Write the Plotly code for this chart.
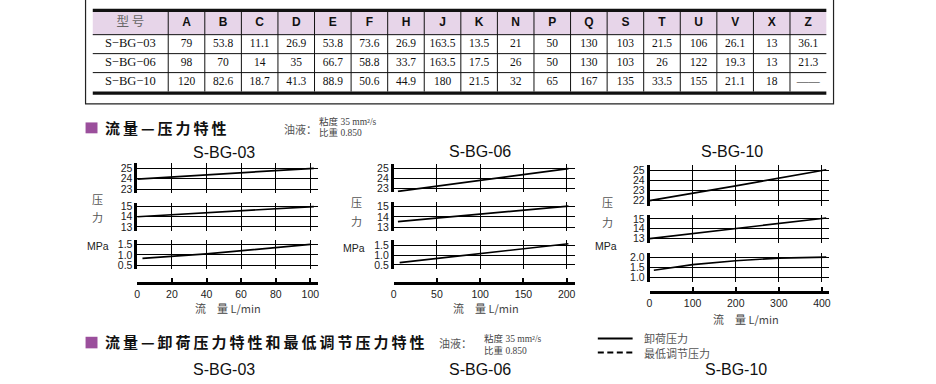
import plotly.graph_objects as go

W, H = 936, 384


def fx(x):
    return x / W


def fy(y):
    return 1 - y / H


# ---------------- table data ----------------
table_header = "型 号"
table_cols = ["A", "B", "C", "D", "E", "F", "H", "J", "K", "N", "P", "Q", "S", "T", "U", "V", "X", "Z"]
models = ["S−BG−03", "S−BG−06", "S−BG−10"]
row_03 = ["79", "53.8", "11.1", "26.9", "53.8", "73.6", "26.9", "163.5", "13.5", "21", "50", "130", "103", "21.5", "106", "26.1", "13", "36.1"]
row_06 = ["98", "70", "14", "35", "66.7", "58.8", "33.7", "163.5", "17.5", "26", "50", "130", "103", "26", "122", "19.3", "13", "21.3"]
row_10 = ["120", "82.6", "18.7", "41.3", "88.9", "50.6", "44.9", "180", "21.5", "32", "65", "167", "135", "33.5", "155", "21.1", "18", "——"]
table_rows = [row_03, row_06, row_10]

# ---------------- chart data (flow L/min -> pressure MPa) ----------------
flow_ticks_03 = [0, 20, 40, 60, 80, 100]
flow_ticks_06 = [0, 50, 100, 150, 200]
flow_ticks_10 = [0, 100, 200, 300, 400]

ticks_hi_a = [23, 24, 25]
ticks_hi_b = [22, 23, 24, 25]
ticks_mid = [13, 14, 15]
ticks_lo_a = [0.5, 1.0, 1.5]
ticks_lo_b = [1.0, 1.5, 2.0]

# S-BG-03
q03_hi = [0, 40, 102]
p03_hi = [23.95, 24.38, 25.0]
q03_mid = [0, 40, 102]
p03_mid = [14.0, 14.4, 15.0]
q03_lo = [3, 40, 100]
p03_lo = [0.83, 1.05, 1.5]
# S-BG-06
q06_hi = [5, 100, 202]
p06_hi = [22.75, 23.87, 25.0]
q06_mid = [5, 100, 202]
p06_mid = [13.55, 14.3, 15.05]
q06_lo = [7, 100, 202]
p06_lo = [0.62, 1.07, 1.57]
# S-BG-10
q10_hi = [0, 200, 410]
p10_hi = [22.0, 23.45, 25.05]
q10_mid = [0, 200, 410]
p10_mid = [13.0, 14.0, 15.1]
q10_lo = [10, 100, 200, 300, 410]
p10_lo = [1.35, 1.63, 1.82, 1.95, 2.0]

chart_titles = ["S-BG-03", "S-BG-06", "S-BG-10"]
x_title = "流\u3000量 L/min"
y_title_chars = ["压", "力", "MPa"]

# ---------------- layout specs (pixel geometry) ----------------
charts = [
    dict(title=chart_titles[0], xdom=(135, 317), xmax=104.6, xticks=flow_ticks_03, axis_y=284,
         title_pos=(221.7, 151.7), xt_pos=(226.5, 309),
         ylab=[(95, 199.3), (95, 217.3), (96, 246.7)],
         panels=[(163, 193, (22.62, 25.48), ticks_hi_a, "d", q03_hi, p03_hi),
                 (202.7, 231.7, (12.57, 15.39), ticks_mid, "d", q03_mid, p03_mid),
                 (240.7, 270, (0.31, 1.705), ticks_lo_a, ".1f", q03_lo, p03_lo)]),
    dict(title=chart_titles[1], xdom=(392.7, 575), xmax=209.5, xticks=flow_ticks_06, axis_y=284,
         title_pos=(480, 151), xt_pos=(486, 309),
         ylab=[(355, 201.7), (355, 221.7), (353, 248.3)],
         panels=[(163.3, 192.3, (22.65, 25.49), ticks_hi_a, "d", q06_hi, p06_hi),
                 (202, 231.7, (12.62, 15.45), ticks_mid, "d", q06_mid, p06_mid),
                 (240, 270, (0.285, 1.785), ticks_lo_a, ".1f", q06_lo, p06_lo)]),
    dict(title=chart_titles[2], xdom=(650, 830.7), xmax=417, xticks=flow_ticks_10, axis_y=293.3,
         title_pos=(733, 151), xt_pos=(747, 320.7),
         ylab=[(608, 201.7), (608, 222.7), (606, 246.7)],
         panels=[(165, 206, (21.48, 25.49), ticks_hi_b, "d", q10_hi, p10_hi),
                 (215, 243.3, (12.57, 15.43), ticks_mid, "d", q10_mid, p10_mid),
                 (253.3, 282.7, (0.78, 2.22), ticks_lo_b, ".1f", q10_lo, p10_lo)]),
]

SANS = "Liberation Sans, Arial, sans-serif"
SERIF = "Liberation Serif, Times New Roman, serif"
CJK = "Noto Sans CJK SC, sans-serif"

fig = go.Figure()
layout = dict(width=W, height=H, margin=dict(l=0, r=0, t=0, b=0),
              paper_bgcolor="white", plot_bgcolor="rgba(0,0,0,0)", showlegend=False)
shapes = []
annotations = []


def ann(text, x, y, size, family, color="#111", xanchor="center", weight="normal"):
    annotations.append(dict(text=text, x=fx(x), y=fy(y), xref="paper", yref="paper",
                            xanchor=xanchor, yanchor="middle", showarrow=False,
                            font=dict(size=size, family=family, color=color, weight=weight)))


idx = 0
for ch in charts:
    x0, x1 = ch["xdom"]
    for pi, (ytop, ybot, yr, yticks, yfmt, qs, ps) in enumerate(ch["panels"]):
        idx += 1
        xa = "xaxis" if idx == 1 else f"xaxis{idx}"
        ya = "yaxis" if idx == 1 else f"yaxis{idx}"
        xr = "x" if idx == 1 else f"x{idx}"
        yr_ = "y" if idx == 1 else f"y{idx}"
        bottom = pi == 2
        xaxis = dict(domain=[fx(x0), fx(x1)], range=[0, ch["xmax"]], tickvals=ch["xticks"],
                     showgrid=True, gridcolor="black", gridwidth=1.3, zeroline=False,
                     fixedrange=True)
        if bottom:
            xaxis.update(anchor="free", position=fy(ch["axis_y"]), showline=True, linecolor="black",
                         linewidth=3, ticks="inside", ticklen=4, tickwidth=1.5, tickcolor="black",
                         showticklabels=True, tickfont=dict(size=10.5, family=SANS, color="#222"))
        else:
            xaxis.update(anchor=yr_, showline=False, ticks="", showticklabels=False)
        layout[xa] = xaxis
        layout[ya] = dict(domain=[fy(ybot), fy(ytop)], range=list(yr), tickvals=yticks,
                          tickformat=yfmt, anchor=xr, showgrid=True, gridcolor="black",
                          gridwidth=1.3, zeroline=False, showline=True, linecolor="black",
                          linewidth=2.5, ticks="", fixedrange=True,
                          tickfont=dict(size=10.5, family=SANS, color="#222"))
        fig.add_trace(go.Scatter(x=qs, y=ps, mode="lines", xaxis=xr, yaxis=yr_,
                                 line=dict(color="black", width=1.7), hoverinfo="skip"))
    ann(ch["title"], *ch["title_pos"], 16, SANS, "#111")
    ann(x_title, *ch["xt_pos"], 11, CJK + ", " + SANS, "#444")
    for (lx, ly), t in zip(ch["ylab"], y_title_chars):
        if t == "MPa":
            ann(t, lx, ly, 10.5, SANS, "#222")
        else:
            ann(t, lx, ly, 11, CJK, "#555")

# ---------------- table on its own axis ----------------
first_w = 2.07
n_cols = len(table_cols)
total_w = first_w + n_cols
head_h = 1.2
n_rows = len(models)
tab_h = head_h + n_rows
tab_left, tab_right = 90, 828
tab_top_px, unit_px = 10, 19.17
dom_top, dom_bot = 6, 95
layout["xaxis10"] = dict(domain=[fx(tab_left), fx(tab_right)], range=[0, total_w], visible=False,
                         anchor="y10", fixedrange=True)
layout["yaxis10"] = dict(domain=[fy(dom_bot), fy(dom_top)],
                         range=[(dom_bot - tab_top_px) / unit_px, (dom_top - tab_top_px) / unit_px],
                         visible=False, anchor="x10", fixedrange=True)

col_centers = [first_w + i + 0.5 for i in range(n_cols)]
row_centers = [head_h + r + 0.5 for r in range(n_rows)]

shapes.append(dict(type="rect", xref="x10", yref="y10", x0=0, x1=total_w, y0=0, y1=head_h,
                   fillcolor="#E7D5E9", line=dict(width=0), layer="below"))
for i in range(n_cols):
    xv = first_w + i
    shapes.append(dict(type="line", xref="x10", yref="y10", x0=xv, x1=xv, y0=0, y1=tab_h,
                       line=dict(color="#111", width=1)))
for r in range(n_rows):
    yv = head_h + r
    shapes.append(dict(type="line", xref="x10", yref="y10", x0=0, x1=total_w, y0=yv, y1=yv,
                       line=dict(color="#111", width=1)))
shapes.append(dict(type="line", xref="x10", yref="y10", x0=0, x1=total_w,
                   y0=-1.5 / unit_px, y1=-1.5 / unit_px, line=dict(color="#111", width=3.2)))
shapes.append(dict(type="line", xref="x10", yref="y10", x0=0, x1=total_w,
                   y0=tab_h + 1.5 / unit_px, y1=tab_h + 1.5 / unit_px, line=dict(color="#111", width=3.2)))

fig.add_trace(go.Scatter(x=[first_w / 2], y=[head_h / 2], text=[table_header], mode="text",
                         xaxis="x10", yaxis="y10", hoverinfo="skip",
                         textfont=dict(size=12.5, family=CJK, color="#666")))
fig.add_trace(go.Scatter(x=col_centers, y=[head_h / 2] * n_cols, text=table_cols, mode="text",
                         xaxis="x10", yaxis="y10", hoverinfo="skip",
                         textfont=dict(size=12, family=SANS, color="#111", weight="bold")))
fig.add_trace(go.Scatter(x=[first_w / 2] * n_rows, y=row_centers, text=models, mode="text",
                         xaxis="x10", yaxis="y10", hoverinfo="skip",
                         textfont=dict(size=12.5, family=SERIF, color="#111")))
vx, vy, vt = [], [], []
for r, row in enumerate(table_rows):
    for c, v in enumerate(row):
        vx.append(col_centers[c])
        vy.append(row_centers[r])
        vt.append(v)
fig.add_trace(go.Scatter(x=vx, y=vy, text=vt, mode="text", xaxis="x10", yaxis="y10",
                         hoverinfo="skip", textfont=dict(size=11.5, family=SERIF, color="#111")))

# outer frame
shapes.append(dict(type="rect", xref="paper", yref="paper", x0=fx(83), x1=fx(835), y0=fy(103), y1=fy(-5),
                   line=dict(color="#222", width=1.2)))

# ---------------- headings ----------------
heading1 = "流量—压力特性"
heading2 = "流量—卸荷压力特性和最低调节压力特性"
oil_label = "油液："
oil_visc = "粘度 35 mm²/s"
oil_sg = "比重 0.850"
legend_solid = "卸荷压力"
legend_dash = "最低调节压力"

for sq_top, sq_bot, txt, ty, oil_x, spec_x, spec_y1, spec_y2 in [
        (121.7, 132.7, heading1, 127.3, 280, 316, 121, 132),
        (338.3, 350, heading2, 343.3, 436, 481.7, 340, 352.3)]:
    shapes.append(dict(type="rect", xref="paper", yref="paper", x0=fx(83), x1=fx(95),
                       y0=fy(sq_bot), y1=fy(sq_top), fillcolor="#9B4F9C", line=dict(width=0)))
    ann("\u2009".join(list(txt)), 100.5, ty, 15, CJK, "#111", xanchor="left", weight="bold")
    ann(oil_label, oil_x, ty + 1, 11, CJK, "#555", xanchor="left")
    ann(oil_visc, spec_x, spec_y1, 9.5, SERIF + ", " + CJK, "#444", xanchor="left")
    ann(oil_sg, spec_x, spec_y2, 9.5, SERIF + ", " + CJK, "#444", xanchor="left")

for t, pos in zip(chart_titles, [(221.7, 371), (480, 371), (736.7, 371)]):
    ann(t, *pos, 16, SANS, "#111")

shapes.append(dict(type="line", xref="paper", yref="paper", x0=fx(598), x1=fx(633), y0=fy(340), y1=fy(340),
                   line=dict(color="black", width=2)))
shapes.append(dict(type="line", xref="paper", yref="paper", x0=fx(598), x1=fx(633), y0=fy(354.3),
                   y1=fy(354.3), line=dict(color="black", width=2, dash="6px,3.5px")))
ann(legend_solid, 642, 340, 11, CJK, "#555", xanchor="left")
ann(legend_dash, 642, 354.3, 11, CJK, "#555", xanchor="left")

layout["shapes"] = shapes
layout["annotations"] = annotations
fig.update_layout(**layout)
fig.write_html("out.html", config={"displayModeBar": False},
               post_script="document.body.style.margin='0';document.body.style.padding='0';")
